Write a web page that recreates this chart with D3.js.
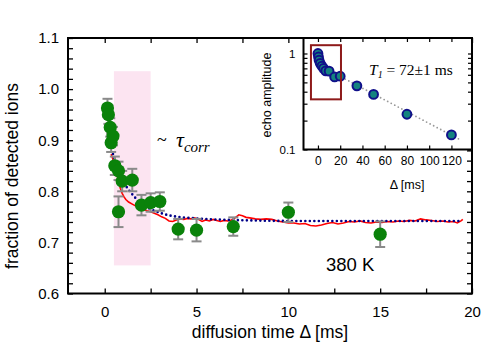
<!DOCTYPE html>
<html>
<head>
<meta charset="utf-8">
<script src="https://cdn.jsdelivr.net/npm/d3@7"></script>
<style>
  body { margin: 0; background: #fff; }
  svg { display: block; font-family: "Liberation Sans", Arial, sans-serif; }
</style>
</head>
<body>
<div id="chart"></div>
<script>
// main data: diffusion time [ms], fraction, error
const ionTime = [0.15, 0.2, 0.3, 0.35, 0.45, 0.55, 0.75, 0.95, 1.5, 0.75, 2.0, 2.5, 3.0, 4.0, 5.0, 7.0, 10.0, 15.0]
const ionFrac = [0.963, 0.950, 0.925, 0.895, 0.908, 0.850, 0.840, 0.820, 0.822, 0.760, 0.773, 0.778, 0.780, 0.726, 0.724, 0.731, 0.759, 0.716]
const ionErr  = [0.018, 0.018, 0.018, 0.018, 0.018, 0.018, 0.018, 0.020, 0.022, 0.030, 0.020, 0.018, 0.018, 0.020, 0.022, 0.018, 0.019, 0.025]

// red trace (simulation)
const traceX = [0.35, 0.45, 0.55, 0.65, 0.75, 0.85, 0.95, 1.05, 1.15, 1.3, 1.5, 1.7, 1.9, 2.1, 2.3, 2.5, 2.7, 2.9, 3.1, 3.3, 3.5, 3.7, 3.9, 4.1, 4.3, 4.5, 4.7, 4.9, 5.1, 5.3, 5.5, 5.7, 5.9, 6.1, 6.3, 6.5, 6.7, 6.9, 7.1, 7.3, 7.5, 7.7, 7.9, 8.2, 8.5, 8.8, 9.1, 9.4, 9.7, 10.0, 10.3, 10.6, 10.9, 11.2, 11.5, 11.8, 12.1, 12.4, 12.7, 13.0, 13.3, 13.6, 13.9, 14.2, 14.5, 14.8, 15.1, 15.4, 15.7, 16.0, 16.3, 16.6, 16.9, 17.2, 17.5, 17.8, 18.1, 18.4, 18.7, 19.0, 19.2, 19.4, 19.5]
const traceY = [0.873, 0.862, 0.848, 0.835, 0.820, 0.806, 0.796, 0.789, 0.784, 0.779, 0.775, 0.771, 0.767, 0.765, 0.762, 0.760, 0.757, 0.754, 0.750, 0.747, 0.742, 0.741, 0.744, 0.746, 0.745, 0.747, 0.746, 0.748, 0.745, 0.741, 0.744, 0.742, 0.745, 0.743, 0.741, 0.743, 0.742, 0.744, 0.748, 0.754, 0.752, 0.749, 0.748, 0.746, 0.745, 0.746, 0.745, 0.742, 0.740, 0.738, 0.738, 0.736, 0.737, 0.733, 0.732, 0.734, 0.737, 0.739, 0.736, 0.738, 0.741, 0.740, 0.742, 0.739, 0.738, 0.740, 0.739, 0.741, 0.740, 0.742, 0.741, 0.743, 0.742, 0.746, 0.744, 0.743, 0.741, 0.742, 0.740, 0.741, 0.738, 0.742, 0.745]

// blue dotted fit
const fitX = [0.45, 0.7, 1.0, 1.3, 1.6, 2.0, 2.5, 3.0, 3.5, 4.0, 5.0, 6.0, 8.0, 10.0, 15.0, 19.5]
const fitY = [0.873, 0.845, 0.820, 0.803, 0.790, 0.775, 0.765, 0.758, 0.753, 0.750, 0.747, 0.745, 0.743, 0.742, 0.742, 0.742]

// shaded correlation window [ms] and its fraction span
const corrWindow = [0.5, 2.5]
const corrSpan = [0.655, 1.035]

// inset: echo amplitude vs delay [ms]
const echoTime = [0, 0.5, 1, 2, 3.5, 5, 7, 10, 15, 20, 35, 50, 80, 120]
const echoAmp = [1.0, 0.92, 0.85, 0.79, 0.74, 0.70, 0.66, 0.655, 0.57, 0.58, 0.46, 0.375, 0.233, 0.142]
const echoFitX = [15, 128]
const echoFitY = [0.62, 0.126]
const zoomBoxX = [-6.3, 20.7]
const zoomBoxY = [0.333, 1.22]

const xTicks = [0, 5, 10, 15, 20]
const yTicks = [0.6, 0.7, 0.8, 0.9, 1.0, 1.1]
const insetXTicks = [0, 20, 40, 60, 80, 100, 120]

const W = 491, H = 345
const plot = { left: 68, right: 472, top: 38, bottom: 293.5 }
const inset = { left: 303.5, right: 472, top: 38, bottom: 149.5 }

const svg = d3.select('#chart').append('svg')
    .attr('width', W)
    .attr('height', H)

const x = d3.scaleLinear().domain([-2, 20]).range([plot.left, plot.right])
const y = d3.scaleLinear().domain([0.6, 1.1]).range([plot.bottom, plot.top])

// pink window
svg.append('rect')
    .attr('x', x(corrWindow[0]))
    .attr('y', y(corrSpan[1]))
    .attr('width', x(corrWindow[1]) - x(corrWindow[0]))
    .attr('height', y(corrSpan[0]) - y(corrSpan[1]))
    .attr('fill', '#fce4f1')

// ticks, all pointing inward
const tick = 5
const minorY = d3.range(0.6, 1.1001, 0.02)
const minorX = d3.range(0, 20.001, 2.5)

svg.append('g').attr('transform', `translate(${plot.left},0)`)
    .call(d3.axisLeft(y).tickValues(minorY).tickSizeInner(-tick).tickSizeOuter(0).tickFormat(''))
svg.append('g').attr('transform', `translate(${plot.right},0)`)
    .call(d3.axisRight(y).tickValues(minorY).tickSizeInner(-tick).tickSizeOuter(0).tickFormat(''))
svg.append('g').attr('transform', `translate(0,${plot.bottom})`)
    .call(d3.axisBottom(x).tickValues(minorX).tickSizeInner(-tick).tickSizeOuter(0).tickFormat(''))
svg.append('g').attr('transform', `translate(0,${plot.top})`)
    .call(d3.axisTop(x).tickValues(minorX).tickSizeInner(-tick).tickSizeOuter(0).tickFormat(''))

// tick labels
svg.append('g').attr('transform', `translate(${plot.left},0)`)
    .call(d3.axisLeft(y).tickValues(yTicks).tickSize(0).tickPadding(9).tickFormat(d3.format('.1f')))
    .call(g => g.selectAll('text').attr('font-size', 15).attr('fill', '#000'))
    .attr('font-family', null)
svg.append('g').attr('transform', `translate(0,${plot.bottom})`)
    .call(d3.axisBottom(x).tickValues(xTicks).tickSize(0).tickPadding(13).tickFormat(d3.format('d')))
    .call(g => g.selectAll('text').attr('font-size', 15).attr('fill', '#000'))
    .attr('font-family', null)

svg.selectAll('.domain').remove()
svg.selectAll('.tick line').attr('stroke', '#000').attr('stroke-width', 1.3)

// frame
svg.append('rect')
    .attr('x', plot.left).attr('y', plot.top)
    .attr('width', plot.right - plot.left).attr('height', plot.bottom - plot.top)
    .attr('fill', 'none').attr('stroke', '#000').attr('stroke-width', 2)

// red trace
const trace = traceX.map((d, i) => [d, traceY[i]])
svg.append('path')
    .datum(trace)
    .attr('d', d3.line().x(d => x(d[0])).y(d => y(d[1])))
    .attr('fill', 'none')
    .attr('stroke', '#ff0000')
    .attr('stroke-width', 1.6)

// blue dotted fit
const fit = fitX.map((d, i) => [d, fitY[i]])
svg.append('path')
    .datum(fit)
    .attr('d', d3.line().curve(d3.curveMonotoneX).x(d => x(d[0])).y(d => y(d[1])))
    .attr('fill', 'none')
    .attr('stroke', '#000088')
    .attr('stroke-width', 2.6)
    .attr('stroke-linecap', 'round')
    .attr('stroke-dasharray', '0 4.5')

// error bars + points
const ions = ionTime.map((d, i) => ({ t: d, f: ionFrac[i], e: ionErr[i] }))
const bars = svg.append('g').attr('stroke', '#8a8a8a').attr('stroke-width', 2)
ions.forEach(d => {
    bars.append('line')
        .attr('x1', x(d.t)).attr('x2', x(d.t))
        .attr('y1', y(d.f - d.e)).attr('y2', y(d.f + d.e))
    ;[d.f - d.e, d.f + d.e].forEach(v => {
        bars.append('line')
            .attr('x1', x(d.t) - 5).attr('x2', x(d.t) + 5)
            .attr('y1', y(v)).attr('y2', y(v))
    })
})
svg.append('g').selectAll('circle')
    .data(ions)
    .join('circle')
    .attr('cx', d => x(d.t))
    .attr('cy', d => y(d.f))
    .attr('r', 6.6)
    .attr('fill', '#0a820a')

// axis titles
svg.append('text')
    .attr('x', 270).attr('y', 338)
    .attr('text-anchor', 'middle')
    .attr('font-size', 17.5)
    .text('diffusion time Δ [ms]')
svg.append('text')
    .attr('transform', 'translate(18,176) rotate(-90)')
    .attr('text-anchor', 'middle')
    .attr('font-size', 17.5)
    .text('fraction of detected ions')

svg.append('text')
    .attr('x', 326).attr('y', 271)
    .attr('font-size', 18.5)
    .text('380 K')

// ~ tau_corr
const serif = '"Liberation Serif", "Times New Roman", serif'
svg.append('text')
    .attr('x', 157).attr('y', 146)
    .attr('font-family', serif)
    .attr('font-size', 18)
    .text('~')
const tau = svg.append('text')
    .attr('x', 176).attr('y', 147)
    .attr('font-family', serif)
    .attr('font-style', 'italic')
tau.append('tspan').attr('font-size', 22).text('τ')
tau.append('tspan').attr('font-size', 15).attr('dy', 5).text('corr')

// ---- inset ----
const ix = d3.scaleLinear().domain([-13, 138.5]).range([inset.left, inset.right])
const iy = d3.scaleLog().domain([0.1, 1.45]).range([inset.bottom, inset.top])

const ig = svg.append('g')
ig.append('rect')
    .attr('x', inset.left).attr('y', inset.top)
    .attr('width', inset.right - inset.left).attr('height', inset.bottom - inset.top)
    .attr('fill', '#fff')

const logTicks = [0.1, 0.2, 0.3, 0.4, 0.5, 0.6, 0.7, 0.8, 0.9, 1]
ig.append('g').attr('transform', `translate(${inset.left},0)`)
    .call(d3.axisLeft(iy).tickValues(logTicks).tickSizeInner(-4).tickSizeOuter(0).tickFormat(''))
ig.append('g').attr('transform', `translate(${inset.right},0)`)
    .call(d3.axisRight(iy).tickValues(logTicks).tickSizeInner(-4).tickSizeOuter(0).tickFormat(''))
ig.append('g').attr('transform', `translate(0,${inset.bottom})`)
    .call(d3.axisBottom(ix).tickValues(insetXTicks).tickSizeInner(-4).tickSizeOuter(0).tickFormat(''))
ig.append('g').attr('transform', `translate(0,${inset.top})`)
    .call(d3.axisTop(ix).tickValues(insetXTicks).tickSizeInner(-4).tickSizeOuter(0).tickFormat(''))

// inset labels
ig.append('g').attr('transform', `translate(${inset.left},0)`)
    .call(d3.axisLeft(iy).tickValues([0.1, 1]).tickSize(0).tickPadding(8).tickFormat(d => d === 1 ? '1' : '0.1'))
    .call(g => g.selectAll('text').attr('font-size', 11.5).attr('fill', '#000'))
    .attr('font-family', null)
ig.append('g').attr('transform', `translate(0,${inset.bottom})`)
    .call(d3.axisBottom(ix).tickValues(insetXTicks).tickSize(0).tickPadding(7).tickFormat(d3.format('d')))
    .call(g => g.selectAll('text').attr('font-size', 12).attr('fill', '#000'))
    .attr('font-family', null)

ig.selectAll('.domain').remove()
ig.selectAll('.tick line').attr('stroke', '#000').attr('stroke-width', 1.2)

ig.append('rect')
    .attr('x', inset.left).attr('y', inset.top)
    .attr('width', inset.right - inset.left).attr('height', inset.bottom - inset.top)
    .attr('fill', 'none').attr('stroke', '#000').attr('stroke-width', 2)

ig.append('text')
    .attr('transform', `translate(271,95) rotate(-90)`)
    .attr('text-anchor', 'middle')
    .attr('font-size', 12.5)
    .text('echo amplitude')
ig.append('text')
    .attr('x', 407).attr('y', 189)
    .attr('text-anchor', 'middle')
    .attr('font-size', 12.5)
    .text('Δ [ms]')

// T1 fit line
ig.append('path')
    .datum(echoFitX.map((d, i) => [d, echoFitY[i]]))
    .attr('d', d3.line().x(d => ix(d[0])).y(d => iy(d[1])))
    .attr('fill', 'none')
    .attr('stroke', '#999')
    .attr('stroke-width', 1.8)
    .attr('stroke-linecap', 'round')
    .attr('stroke-dasharray', '0 4')

ig.append('g').selectAll('circle')
    .data(echoTime.map((d, i) => [d, echoAmp[i]]))
    .join('circle')
    .attr('cx', d => ix(d[0]))
    .attr('cy', d => iy(d[1]))
    .attr('r', 4.4)
    .attr('fill', '#14837f')
    .attr('stroke', '#10108a')
    .attr('stroke-width', 2)

ig.append('rect')
    .attr('x', ix(zoomBoxX[0])).attr('y', iy(zoomBoxY[1]))
    .attr('width', ix(zoomBoxX[1]) - ix(zoomBoxX[0]))
    .attr('height', iy(zoomBoxY[0]) - iy(zoomBoxY[1]))
    .attr('fill', 'none')
    .attr('stroke', '#8e1a1a')
    .attr('stroke-width', 2)

const t1 = ig.append('text')
    .attr('x', 369).attr('y', 75)
    .attr('font-family', serif)
    .attr('font-size', 15.5)
t1.append('tspan').attr('font-style', 'italic').text('T')
t1.append('tspan').attr('font-style', 'italic').attr('font-size', 10).attr('dy', 3).text('1')
t1.append('tspan').attr('dy', -3).text(' = 72±1 ms')
</script>
</body>
</html>
